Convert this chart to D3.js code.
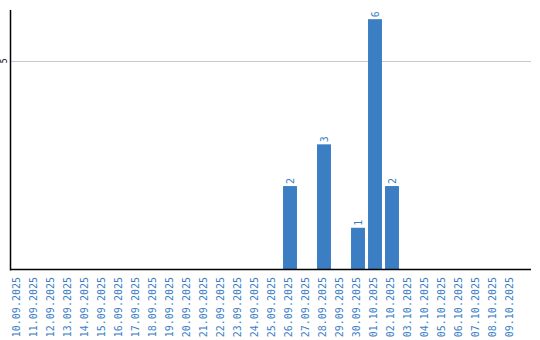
<!DOCTYPE html>
<html>
<head>
<meta charset="utf-8">
<script src="https://cdn.jsdelivr.net/npm/d3@7"></script>
<style>
    body { margin: 0; background: #fff; }
    text { font-family: "DejaVu Sans Mono", monospace; }
</style>
</head>
<body>
<div id="chart"></div>
<script>
const dates = [
    "10.09.2025", "11.09.2025", "12.09.2025", "13.09.2025", "14.09.2025",
    "15.09.2025", "16.09.2025", "17.09.2025", "18.09.2025", "19.09.2025",
    "20.09.2025", "21.09.2025", "22.09.2025", "23.09.2025", "24.09.2025",
    "25.09.2025", "26.09.2025", "27.09.2025", "28.09.2025", "29.09.2025",
    "30.09.2025", "01.10.2025", "02.10.2025", "03.10.2025", "04.10.2025",
    "05.10.2025", "06.10.2025", "07.10.2025", "08.10.2025", "09.10.2025"
];
const counts = [
    0, 0, 0, 0, 0, 0, 0, 0, 0, 0,
    0, 0, 0, 0, 0, 0, 2, 0, 3, 0,
    1, 6, 2, 0, 0, 0, 0, 0, 0, 0
];
const yTicks = [5];
const yMax = 6.22;

const blue = "#3b7ec4";
const width = 540, height = 340;
const plotLeft = 10.5, plotRight = 531, plotTop = 10, plotBottom = 269.5;

const svg = d3.select("#chart")
    .append("svg")
    .attr("width", width)
    .attr("height", height);

const data = dates.map((d, i) => ({ date: d, value: counts[i] }));

const x = d3.scaleBand()
    .domain(dates)
    .range([9.5, 519.5])
    .paddingInner(0.18)
    .paddingOuter(0.09);

const y = d3.scaleLinear()
    .domain([0, yMax])
    .range([plotBottom, plotTop]);

// grid
svg.selectAll("line.grid")
    .data(yTicks)
    .join("line")
    .classed("grid", true)
    .attr("x1", plotLeft)
    .attr("x2", plotRight)
    .attr("y1", d => Math.round(y(d)) + 0.5)
    .attr("y2", d => Math.round(y(d)) + 0.5)
    .attr("stroke", "#c8c8c8")
    .attr("stroke-width", 1)

svg.selectAll("text.ytick")
    .data(yTicks)
    .join("text")
    .classed("ytick", true)
    .attr("transform", d => `translate(7,${y(d)}) rotate(-90)`)
    .attr("text-anchor", "middle")
    .style("font-size", "8px")
    .attr("fill", "#000")
    .text(d => d)

// bars
svg.selectAll("rect")
    .data(data.filter(d => d.value > 0))
    .join("rect")
    .attr("x", d => x(d.date))
    .attr("y", d => y(d.value))
    .attr("width", x.bandwidth())
    .attr("height", d => y(0) - y(d.value))
    .attr("fill", blue)

svg.selectAll("text.value")
    .data(data.filter(d => d.value > 0))
    .join("text")
    .classed("value", true)
    .attr("transform", d => `translate(${x(d.date) + x.bandwidth() / 2 + 3.5},${y(d.value) - 2}) rotate(-90)`)
    .attr("text-anchor", "start")
    .style("font-size", "10px")
    .attr("fill", blue)
    .text(d => d.value)

// axes lines
svg.append("line")
    .attr("x1", plotLeft).attr("x2", plotLeft)
    .attr("y1", plotTop).attr("y2", plotBottom + 1)
    .attr("stroke", "#000")
    .attr("stroke-width", 1.5)

svg.append("line")
    .attr("x1", plotLeft).attr("x2", plotRight)
    .attr("y1", plotBottom).attr("y2", plotBottom)
    .attr("stroke", "#000")
    .attr("stroke-width", 1.5)

// x labels
svg.selectAll("text.xlabel")
    .data(dates)
    .join("text")
    .classed("xlabel", true)
    .attr("transform", d => `translate(${x(d) + x.bandwidth() / 2 + 2},277) rotate(-90)`)
    .attr("text-anchor", "end")
    .style("font-size", "10px")
    .attr("fill", blue)
    .text(d => d)
</script>
</body>
</html>
